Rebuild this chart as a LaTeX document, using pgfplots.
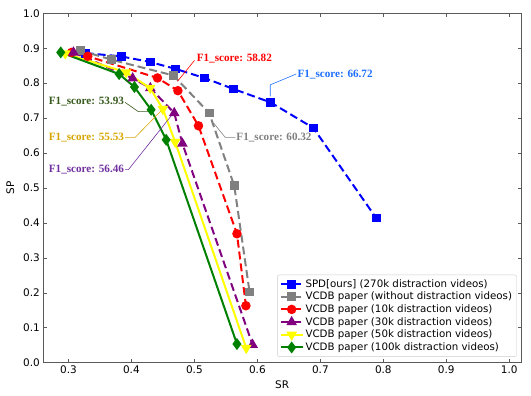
\documentclass[border=0pt]{standalone}
\usepackage{pgfplots}
\pgfplotsset{compat=1.18}
\usepackage{fontspec}
\setmainfont{DejaVu Sans}
\newfontfamily\annfont{Liberation Serif}
\definecolor{cblue}{RGB}{0,0,255}
\definecolor{cgray}{RGB}{128,128,128}
\definecolor{cred}{RGB}{255,0,0}
\definecolor{cpurple}{RGB}{128,0,128}
\definecolor{cyellow}{RGB}{255,255,0}
\definecolor{cgreen}{RGB}{0,128,0}
\definecolor{annblue}{RGB}{30,110,255}
\definecolor{anngreen}{RGB}{55,90,30}
\definecolor{anngold}{RGB}{215,165,0}
\definecolor{annpurple}{RGB}{112,48,160}
\definecolor{framec}{RGB}{90,90,90}

\pgfplotstableread{
x y
0.3275 0.886
0.3836 0.8767
0.4297 0.8606
0.4706 0.8406
0.516 0.8148
0.5622 0.7833
0.621 0.745
0.689 0.6717
0.7886 0.4141
}\spd
\pgfplotstableread{
x y
0.3184 0.894
0.3688 0.867
0.4668 0.822
0.5235 0.7146
0.5633 0.5066
0.5876 0.2023
}\vcdbnone
\pgfplotstableread{
x y
0.305 0.888
0.3307 0.877
0.4414 0.815
0.4738 0.7785
0.5065 0.678
0.5676 0.369
0.5818 0.163
}\vcdbten
\pgfplotstableread{
x y
0.308 0.888
0.402 0.814
0.430 0.786
0.468 0.7146
0.481 0.627
0.5924 0.0515
}\vcdbthirty
\pgfplotstableread{
x y
0.295 0.885
0.3916 0.831
0.4297 0.786
0.450 0.726
0.4695 0.6317
0.5823 0.042
}\vcdbfifty
\pgfplotstableread{
x y
0.2878 0.888
0.3805 0.826
0.4048 0.789
0.4313 0.724
0.4552 0.638
0.5676 0.0535
}\vcdbhundred

\begin{document}
\begin{tikzpicture}
\begin{axis}[
  scale only axis,
  width=477.7bp, height=349.4bp,
  xmin=0.2601, xmax=1.0186, ymin=0, ymax=1,
  xtick={0.3,0.4,0.5,0.6,0.7,0.8,0.9,1.0},
  ytick={0,0.1,0.2,0.3,0.4,0.5,0.6,0.7,0.8,0.9,1.0},
  xticklabel style={/pgf/number format/.cd, fixed, fixed zerofill, precision=1},
  yticklabel style={/pgf/number format/.cd, fixed, fixed zerofill, precision=1},
  /pgf/number format/assume math mode=true,
  tick label style={font=\fontsize{10.5}{12}\selectfont},
  label style={font=\fontsize{10.5}{12}\selectfont},
  tick align=inside,
  tick pos=both,
  major tick length=3.5bp,
  tick style={framec, line width=0.6pt},
  axis line style={framec, line width=0.8pt},
  xlabel={SR}, ylabel={SP},
  ylabel style={yshift=2bp},
  legend style={at={(0.991,0.017)}, anchor=south east, font=\fontsize{10.3}{12}\selectfont,
    draw=black!20, rounded corners=2pt, row sep=-0.6pt, inner sep=2.5pt},
  legend cell align=left,
  legend image code/.code={
    \draw[#1] (0bp,0bp) -- (21.7bp,0bp);
    \draw[#1, solid] plot coordinates {(10.85bp,0bp)};
  },
  every axis plot/.append style={line width=2pt},
  mark options={solid},
]
\addplot[cblue, dash pattern=on 8pt off 4pt, mark=square*, mark size=3.5pt] table {\spd};
\addlegendentry{SPD[ours] (270k distraction videos)}
\addplot[cgray, dash pattern=on 8pt off 4pt, mark=square*, mark size=3.5pt] table {\vcdbnone};
\addlegendentry{VCDB paper (without distraction videos)}
\addplot[cred, dash pattern=on 8pt off 4pt, mark=*, mark size=3.7pt] table {\vcdbten};
\addlegendentry{VCDB paper (10k distraction videos)}
\addplot[cpurple, dash pattern=on 8pt off 4pt, mark=triangle*, mark size=4.2pt] table {\vcdbthirty};
\addlegendentry{VCDB paper (30k distraction videos)}
\addplot[cyellow, mark=triangle*, mark options={rotate=180}, mark size=4.2pt] table {\vcdbfifty};
\addlegendentry{VCDB paper (50k distraction videos)}
\addplot[cgreen, mark=diamond*, mark size=4.4pt] table {\vcdbhundred};
\addlegendentry{VCDB paper (100k distraction videos)}

% annotations
\draw[cred, line width=0.6pt] (axis cs:0.5002,0.8652) -- (axis cs:0.4731,0.8051);
\node[cred, font=\annfont\bfseries\fontsize{11.2}{13}\selectfont, anchor=west, inner sep=0pt] at (axis cs:0.5035,0.870) {F1\_score: 58.82};
\draw[annblue, line width=0.6pt] (axis cs:0.6618,0.8263) -- (axis cs:0.6205,0.7953) -- (axis cs:0.6205,0.7622);
\node[annblue, font=\annfont\bfseries\fontsize{11.2}{13}\selectfont, anchor=west, inner sep=0pt] at (axis cs:0.6635,0.824) {F1\_score: 66.72};
\draw[cgray, line width=0.6pt] (axis cs:0.5649,0.6448) -- (axis cs:0.5490,0.6448) -- (axis cs:0.5304,0.686);
\node[cgray, font=\annfont\bfseries\fontsize{11.2}{13}\selectfont, anchor=west, inner sep=0pt] at (axis cs:0.5665,0.6448) {F1\_score: 60.32};
\draw[anngreen, line width=0.6pt] (axis cs:0.39,0.745) -- (axis cs:0.4111,0.7184) -- (axis cs:0.427,0.7184);
\node[anngreen, font=\annfont\bfseries\fontsize{11.2}{13}\selectfont, anchor=east, inner sep=0pt] at (axis cs:0.3885,0.7461) {F1\_score: 53.93};
\draw[anngold, line width=0.6pt] (axis cs:0.39,0.6448) -- (axis cs:0.4059,0.6448) -- (axis cs:0.45,0.7261);
\node[anngold, font=\annfont\bfseries\fontsize{11.2}{13}\selectfont, anchor=east, inner sep=0pt] at (axis cs:0.3885,0.6448) {F1\_score: 55.53};
\draw[annpurple, line width=0.6pt] (axis cs:0.39,0.5524) -- (axis cs:0.3952,0.5524) -- (axis cs:0.4668,0.7147);
\node[annpurple, font=\annfont\bfseries\fontsize{11.2}{13}\selectfont, anchor=east, inner sep=0pt] at (axis cs:0.3885,0.5524) {F1\_score: 56.46};
\end{axis}
\pgfresetboundingbox
\path[use as bounding box] (-43.3bp,-33.3bp) rectangle (487.7bp,362.7bp);
\end{tikzpicture}
\end{document}
